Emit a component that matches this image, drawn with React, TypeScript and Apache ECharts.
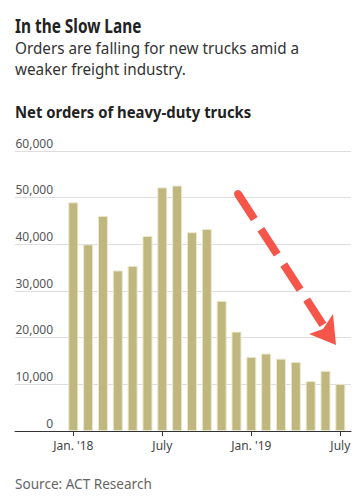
import React, { useEffect, useRef } from "react";
import * as echarts from "echarts";

const xTickIdx = [0, 6, 12, 18];
const xTickLabels = ["Jan. '18", "July", "Jan. '19", "July"];
const orders = [49000, 40000, 46100, 34400, 35400, 41800, 52200, 52600, 42600, 43300, 27900, 21300,
  15900, 16600, 15500, 14800, 10700, 12900, 10100];
const yTicks = [0, 10000, 20000, 30000, 40000, 50000, 60000];

const FONT = "Noto Sans";
const RED = "#f6554a";

export default function App() {
  const ref = useRef<HTMLDivElement>(null);
  useEffect(() => {
    const chart = echarts.init(ref.current!, null, { renderer: "svg" });
    const txt = (text: string, x: number, y: number, font: string, fill: string, sx: number) => ({
      type: "text",
      x,
      y,
      scaleX: sx,
      style: { text, font, fill, verticalAlign: "top", align: "left" },
    });
    const option: any = {
      animation: false,
      backgroundColor: "#ffffff",
      textStyle: { fontFamily: FONT },
      grid: { left: 15, right: 12, top: 151, bottom: 70, containLabel: false },
      xAxis: {
        type: "value",
        min: -3.93,
        max: 18.72,
        splitLine: { show: false },
        axisLine: { show: true, lineStyle: { color: "#333", width: 1 } },
        axisTick: { show: true, customValues: xTickIdx, length: 5, lineStyle: { color: "#333" } },
        axisLabel: {
          customValues: xTickIdx,
          color: "#444",
          fontSize: 12,
          fontFamily: FONT,
          margin: 8,
          formatter: (v: number) => xTickLabels[xTickIdx.indexOf(Math.round(v))] ?? "",
        },
      },
      yAxis: {
        type: "value",
        min: 0,
        max: 60000,
        interval: 10000,
        axisLine: { show: false },
        axisTick: { show: false },
        splitLine: { show: true, lineStyle: { color: "#dedede", width: 1 } },
        axisLabel: {
          inside: true,
          align: "right",
          verticalAlign: "bottom",
          margin: 38,
          padding: [0, 0, 2, 0],
          color: "#555",
          fontSize: 12,
          fontFamily: FONT,
          formatter: (v: number) => (yTicks.includes(v) ? v.toLocaleString("en-US") : ""),
        },
      },
      series: [
        {
          type: "bar",
          data: orders.map((v, i) => [i, v]),
          barWidth: 10,
          itemStyle: { color: "#bfb77e", borderColor: "#ebe8d2", borderWidth: 1 },
          z: 3,
        },
      ],
      graphic: [
        txt("In the Slow Lane", 15, 15, `bold 20px "${FONT}"`, "#222", 0.77),
        txt("Orders are falling for new trucks amid a", 15, 40, `16px "${FONT}"`, "#333", 0.955),
        txt("weaker freight industry.", 15, 61, `16px "${FONT}"`, "#333", 0.955),
        txt("Net orders of heavy-duty trucks", 15, 104, `bold 16px "${FONT}"`, "#222", 0.93),
        txt("Source: ACT Research", 15, 476, `14px "${FONT}"`, "#666", 0.97),
        {
          type: "line",
          shape: { x1: 238, y1: 194, x2: 325, y2: 328 },
          style: { stroke: RED, lineWidth: 8, lineDash: [30, 12] },
          z: 10,
        },
        { type: "circle", shape: { cx: 238, cy: 194, r: 4 }, style: { fill: RED }, z: 10 },
        {
          type: "polygon",
          shape: { points: [[336, 345], [309, 334], [323, 329], [333, 314]] },
          style: { fill: RED },
          z: 10,
        },
      ],
    };
    chart.setOption(option);
    return () => chart.dispose();
  }, []);
  return <div ref={ref} style={{ width: 363, height: 501, position: "absolute", left: 0, top: 0 }} />;
}
